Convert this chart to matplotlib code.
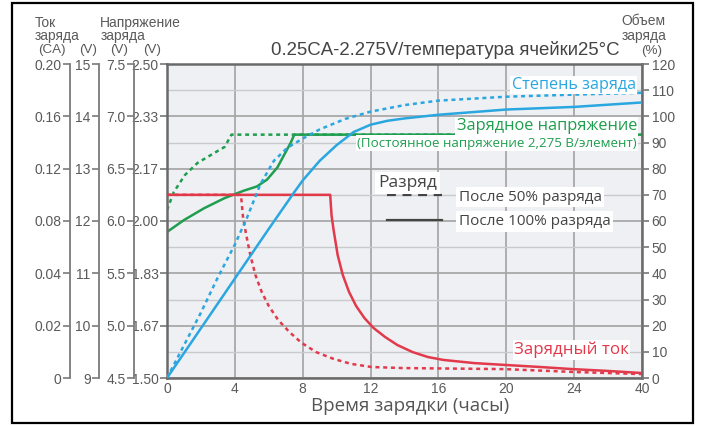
import numpy as np
import matplotlib.pyplot as plt
from matplotlib.patches import Rectangle
from matplotlib.lines import Line2D

# time axis (hours) - last interval is 24 -> 40 h
hour_ticks = [0, 4, 8, 12, 16, 20, 24, 40]

# state of charge, %
soc100_h = [0, 2, 4, 6, 7.5, 8, 9, 10, 11, 12, 13, 14, 16, 20, 24, 40]
soc100 = [0, 19, 38, 57, 71, 75.5, 83, 89, 94, 96.8, 98.3, 99.2, 100.6, 102.6, 103.6, 105.3]
soc50_h = [0, 1, 2, 3, 4, 4.7, 5.5, 6.3, 7.1, 8, 9, 10.5, 12, 14, 16, 20, 24, 40]
soc50 = [0, 12.5, 25, 38.5, 51, 61, 74, 83, 88, 91.5, 95, 99, 101.8, 104.3, 106, 107.5, 108.3, 109]

# charge voltage, V/cell
v100_h = [0, 1, 2.2, 3.4, 4.5, 5.3, 5.9, 6.5, 6.9, 7.3, 7.5, 40]
v100 = [1.965, 2.003, 2.041, 2.073, 2.096, 2.110, 2.132, 2.170, 2.210, 2.250, 2.275, 2.275]
v50_h = [0, 0.4, 1.05, 1.8, 2.8, 3.4, 3.8, 40]
v50 = [2.035, 2.092, 2.146, 2.185, 2.217, 2.236, 2.275, 2.275]

# charge current, CA
i100_h = [0, 9.62, 9.7, 9.82, 10.06, 10.36, 10.73, 11.15, 11.64, 12.18, 12.85, 13.58,
          14.48, 15.39, 16.3, 18.1, 19.9, 22.0, 23.9, 32.0, 40]
i100 = [0.10, 0.10, 0.0842, 0.0732, 0.054, 0.0394, 0.0329, 0.0275, 0.0229, 0.0191, 0.0157,
        0.0126, 0.0099, 0.008, 0.0069, 0.0057, 0.005, 0.0042, 0.0034, 0.0027, 0.0019]
i50_h = [0, 4.36, 4.48, 4.67, 4.91, 5.21, 5.58, 6.0, 6.55, 7.21, 7.94, 8.79, 9.82,
         10.85, 12.06, 13.88, 16.9, 19.9, 24, 40]
i50 = [0.10, 0.10, 0.0831, 0.0693, 0.054, 0.0394, 0.0329, 0.0275, 0.0222, 0.0176, 0.0134,
       0.0099, 0.0073, 0.0054, 0.0042, 0.0038, 0.0036, 0.0034, 0.0023, 0.0015]

# left-hand scales
ca_ticks = [0, 0.02, 0.04, 0.08, 0.12, 0.16, 0.20]
ca_labels = ['0', '0.02', '0.04', '0.08', '0.12', '0.16', '0.20']
v6_labels = ['9', '10', '11', '12', '13', '14', '15']
v3_labels = ['4.5', '5.0', '5.5', '6.0', '6.5', '7.0', '7.5']
cell_labels = ['1.50', '1.67', '1.83', '2.00', '2.17', '2.33', '2.50']

BLUE = '#2aa6e0'
GREEN = '#1e9e4e'
RED = '#e2394b'
GREY = '#5a5a5a'
DOTS = (0, (1.6, 1.5))

plt.rcParams['font.family'] = ['Liberation Sans', 'DejaVu Sans']
TXT = ['Open Sans', 'DejaVu Sans']

W, H = 701, 426
fig = plt.figure(figsize=(W / 100, H / 100), dpi=100)
fig.patch.set_facecolor('white')


def fx(x):
    return x / W


def fy(y):
    return 1 - y / H


ax = fig.add_axes([fx(167), fy(378), (642 - 167) / W, (378 - 64) / H])
ax.set_facecolor('#eef0f3')

# piecewise x scale: equal spacing for the listed hours
pos = np.arange(len(hour_ticks))
ax.set_xscale('function', functions=(lambda h: np.interp(h, hour_ticks, pos),
                                     lambda p: np.interp(p, pos, hour_ticks)))
ax.set_xlim(0, 40)
ax.set_xticks(hour_ticks, [str(h) for h in hour_ticks])

# main axis: cell voltage
ax.set_ylim(1.5, 2.5)
ax.set_yticks(np.linspace(1.5, 2.5, 7), cell_labels)
ax.set_yticks(np.linspace(1.5, 2.5, 13), minor=True)
ax.grid(True, which='major', color='#a3a3a3', lw=1.2)
ax.grid(True, which='minor', axis='y', color='#c9cacc', lw=1.0)
ax.set_axisbelow(True)
for s in ax.spines.values():
    s.set_color('#6a6a6a')
    s.set_linewidth(1.8)
ax.tick_params(axis='y', which='major', direction='out', length=5, width=1.2,
               color='#777777', labelcolor=GREY, labelsize=10, pad=1)
ax.tick_params(axis='y', which='minor', length=0)
ax.tick_params(axis='x', length=0, labelcolor=GREY, labelsize=10, pad=3)

ax.plot(v50_h, v50, color=GREEN, lw=1.8, ls=DOTS)
ax.plot(v100_h, v100, color=GREEN, lw=1.8)


def left_axis(offset, lim):
    a = ax.twinx()
    a.set_ylim(*lim)
    for s in a.spines.values():
        s.set_visible(False)
    a.spines['left'].set_visible(True)
    a.spines['left'].set_position(('axes', offset))
    a.spines['left'].set_color('#7a7a7a')
    a.spines['left'].set_linewidth(1.3)
    a.yaxis.set_ticks_position('left')
    a.yaxis.set_label_position('left')
    a.tick_params(axis='y', direction='out', length=5, width=1.2,
                  color='#7a7a7a', labelcolor=GREY, labelsize=10, pad=1)
    return a


ax3 = left_axis(-33 / 475, (4.5, 7.5))
ax3.set_yticks(np.linspace(4.5, 7.5, 7), v3_labels)
ax6 = left_axis(-68 / 475, (9, 15))
ax6.set_yticks(np.linspace(9, 15, 7), v6_labels)

# current axis with uneven labels
axi = left_axis(-97 / 475, (0, 0.2))
ca_pos = np.arange(len(ca_ticks))
axi.set_yscale('function', functions=(lambda c: np.interp(c, ca_ticks, ca_pos),
                                      lambda p: np.interp(p, ca_pos, ca_ticks)))
axi.set_ylim(0, 0.2)
axi.set_yticks(ca_ticks, ca_labels)
axi.yaxis.set_minor_locator(plt.NullLocator())
axi.plot(i50_h, i50, color=RED, lw=1.8, ls=DOTS)
axi.plot(i100_h, i100, color=RED, lw=1.8)

# state of charge on the right
axp = ax.twinx()
axp.set_ylim(0, 120)
axp.set_yticks(range(0, 121, 10))
for s in axp.spines.values():
    s.set_visible(False)
axp.tick_params(axis='y', direction='out', length=5, width=1.2,
                color='#777777', labelcolor=GREY, labelsize=10, pad=2)
axp.plot(soc50_h, soc50, color=BLUE, lw=1.8, ls=DOTS)
axp.plot(soc100_h, soc100, color=BLUE, lw=1.8)

# discharge legend
handles = [Line2D([], [], color='#444444', lw=1.6, ls=(0, (4, 3))),
           Line2D([], [], color='#444444', lw=1.6)]
leg = axp.legend(handles, ['После 50% разряда', 'После 100% разряда'],
                 loc='center left', bbox_to_anchor=(0.463, 0.537),
                 frameon=False, borderpad=0, borderaxespad=0,
                 handlelength=3.6, handletextpad=1.1, labelspacing=0.62,
                 prop={'family': TXT, 'size': 11})
for t in leg.get_texts():
    t.set_color('#444444')
    t.set_bbox(dict(facecolor='white', edgecolor='none', pad=2))

box = dict(facecolor='white', edgecolor='none', pad=1)
fig.text(fx(378), fy(183), 'Разряд', color='#444444', fontsize=12.5,
         family=TXT, ha='left', va='center', bbox=dict(facecolor='white', edgecolor='none', pad=2))
fig.text(fx(636), fy(85), 'Степень заряда', color=BLUE, fontsize=11.6,
         family=TXT, ha='right', va='center', bbox=box)
fig.text(fx(637), fy(126), 'Зарядное напряжение', color=GREEN, fontsize=11.8,
         family=TXT, ha='right', va='center', bbox=box)
fig.text(fx(637), fy(143), '(Постоянное напряжение 2,275 В/элемент)', color=GREEN,
         fontsize=9.6, family=TXT, ha='right', va='center', bbox=box)
fig.text(fx(629), fy(350), 'Зарядный ток', color=RED, fontsize=12.2,
         family=TXT, ha='right', va='center', bbox=box)

fig.text(fx(445), fy(50), '0.25CA-2.275V/температура ячейки25°C', color='#444444',
         fontsize=13.4, ha='center', va='center')
fig.text(fx(410), fy(406), 'Время зарядки (часы)', color='#555555', fontsize=13.5,
         family=TXT, ha='center', va='center')

# axis headers
hdr = dict(color=GREY, fontsize=10, ha='left', va='top')
fig.text(fx(35), fy(16), 'Ток\nзаряда', linespacing=0.95, **hdr)
fig.text(fx(100), fy(16), 'Напряжение', **hdr)
fig.text(fx(101), fy(29), 'заряда', **hdr)
for x, s in [(52, '(CA)'), (88, '(V)'), (119, '(V)'), (152, '(V)')]:
    fig.text(fx(x), fy(50), s, color=GREY, fontsize=9.6, ha='center', va='center')
fig.text(fx(643), fy(21), 'Объем', color=GREY, fontsize=10, ha='center', va='center')
fig.text(fx(644), fy(36), 'заряда', color=GREY, fontsize=10, ha='center', va='center')
fig.text(fx(652), fy(51), '(%)', color=GREY, fontsize=9.6, ha='center', va='center')

# outer frame
fig.patches.append(Rectangle((fx(12), fy(423)), fx(693 - 12), (423 - 3) / H,
                             transform=fig.transFigure, fill=False,
                             edgecolor='black', lw=1.6))

fig.savefig('out.png', dpi=100)
